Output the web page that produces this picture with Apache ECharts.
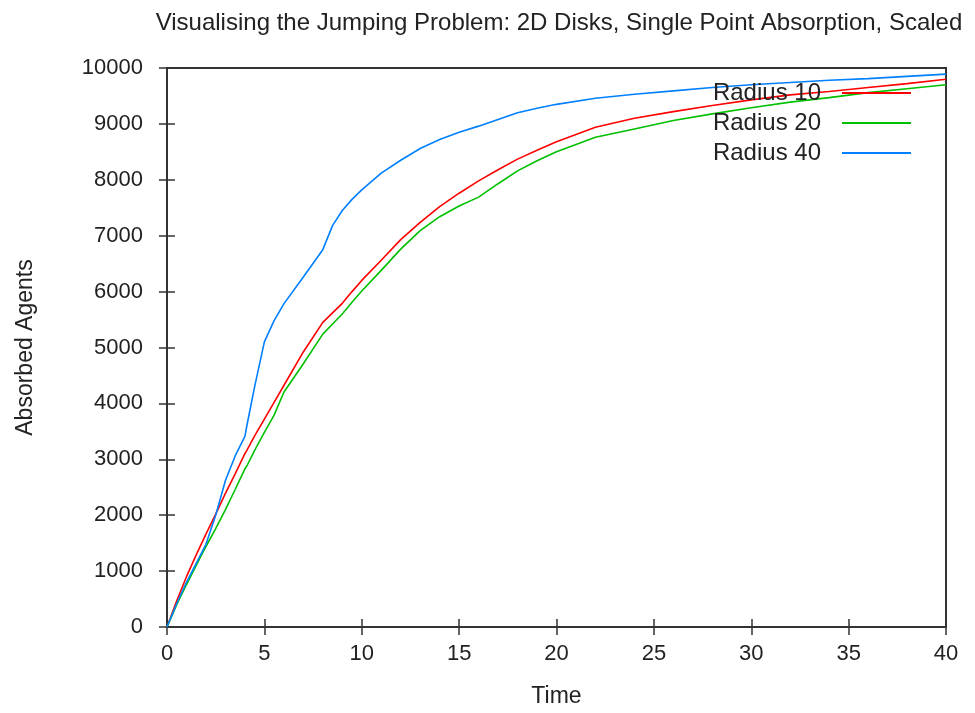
<!DOCTYPE html>
<html>
<head>
<meta charset="utf-8">
<script src="https://cdn.jsdelivr.net/npm/echarts@6/dist/echarts.min.js"></script>
<style>
  html, body { margin: 0; padding: 0; background: #fff; }
  #chart { width: 975px; height: 713px; }
</style>
</head>
<body>
<div id="chart"></div>
<script>
const titleText = 'Visualising the Jumping Problem: 2D Disks, Single Point Absorption, Scaled';
const xName = 'Time';
const yName = 'Absorbed Agents';
const seriesNames = ['Radius 10', 'Radius 20', 'Radius 40'];

const time = [0, 0.5, 1, 1.5, 2, 2.5, 3, 3.5, 4, 4.1, 4.5, 5, 5.5, 6, 7, 8, 8.5, 9, 9.5, 10,
  11, 12, 13, 14, 15, 16, 17, 18, 19, 20, 22, 24, 26, 28, 30, 32, 34, 36, 38, 40];

const radius10 = [0, 470, 900, 1290, 1660, 2020, 2390, 2740, 3100, 3160, 3420, 3720, 4020, 4320, 4920, 5450, 5620, 5790, 6000, 6200,
  6560, 6930, 7240, 7520, 7760, 7980, 8180, 8370, 8530, 8680, 8940, 9100, 9220, 9330, 9430, 9520, 9580, 9650, 9720, 9800];

const radius20 = [0, 400, 760, 1100, 1440, 1760, 2100, 2460, 2830, 2880, 3160, 3480, 3790, 4200, 4710, 5240, 5420, 5600, 5810, 6010,
  6380, 6760, 7090, 7340, 7530, 7690, 7930, 8160, 8340, 8500, 8760, 8910, 9060, 9180, 9290, 9390, 9470, 9560, 9630, 9700];

const radius40 = [0, 420, 800, 1140, 1480, 2000, 2620, 3060, 3410, 3600, 4300, 5100, 5480, 5780, 6260, 6750, 7180, 7450, 7650, 7820,
  8120, 8350, 8560, 8720, 8850, 8960, 9080, 9200, 9280, 9350, 9460, 9530, 9590, 9650, 9700, 9740, 9780, 9810, 9850, 9890];

const colors = ['#ff0000', '#00c000', '#0080ff'];
const allValues = [radius10, radius20, radius40];

function pairs(vals) { return time.map((t, i) => [t, vals[i]]); }

const chart = echarts.init(document.getElementById('chart'), null, { renderer: 'canvas' });
const fontFamily = '"Liberation Sans", Arial, sans-serif';
const textColor = '#222';

const xBase = {
  type: 'value', min: 0, max: 40, interval: 5,
  axisLine: { show: false },
  splitLine: { show: false },
  axisTick: { show: true, inside: true, length: 8, lineStyle: { color: '#333', width: 1.5 } }
};
const yBase = {
  type: 'value', min: 0, max: 10000, interval: 1000,
  axisLine: { show: false },
  splitLine: { show: false },
  axisTick: { show: true, inside: true, length: 8, lineStyle: { color: '#333', width: 1.5 } }
};

chart.setOption({
  animation: false,
  backgroundColor: '#fff',
  title: {
    text: titleText,
    left: 554, top: 6, textAlign: 'center',
    textStyle: { fontFamily, fontSize: 24, fontWeight: 'normal', color: textColor }
  },
  grid: {
    left: 167, right: 29, top: 68, bottom: 85,
    show: true, borderColor: '#333', borderWidth: 2, backgroundColor: 'transparent'
  },
  legend: {
    data: seriesNames.map(n => ({ name: n, icon: 'rect' })),
    orient: 'vertical',
    right: 59, top: 76,
    align: 'right',
    itemWidth: 69, itemHeight: 2, itemGap: 6,
    textStyle: { fontFamily, fontSize: 24, color: textColor, padding: [0, 16, 0, 0] }
  },
  xAxis: [
    Object.assign({}, xBase, {
      position: 'bottom',
      name: xName, nameLocation: 'middle', nameGap: 58,
      nameTextStyle: { fontFamily, fontSize: 23, color: textColor },
      axisLabel: { margin: 16, fontFamily, fontSize: 22, color: textColor }
    }),
    Object.assign({}, xBase, { position: 'top', axisLabel: { show: false } })
  ],
  yAxis: [
    Object.assign({}, yBase, {
      position: 'left',
      name: yName, nameLocation: 'middle', nameGap: 130, nameRotate: 90,
      nameTextStyle: { fontFamily, fontSize: 23, color: textColor },
      axisLabel: { margin: 24, fontFamily, fontSize: 22, color: textColor, formatter: v => String(v) }
    }),
    Object.assign({}, yBase, { position: 'right', axisLabel: { show: false } })
  ],
  series: seriesNames.map((name, i) => ({
    name,
    type: 'line',
    xAxisIndex: 0, yAxisIndex: 0,
    data: pairs(allValues[i]),
    symbol: 'none',
    smooth: false,
    lineStyle: { color: colors[i], width: 1.6 },
    itemStyle: { color: colors[i] },
    z: 2
  }))
});
</script>
</body>
</html>
